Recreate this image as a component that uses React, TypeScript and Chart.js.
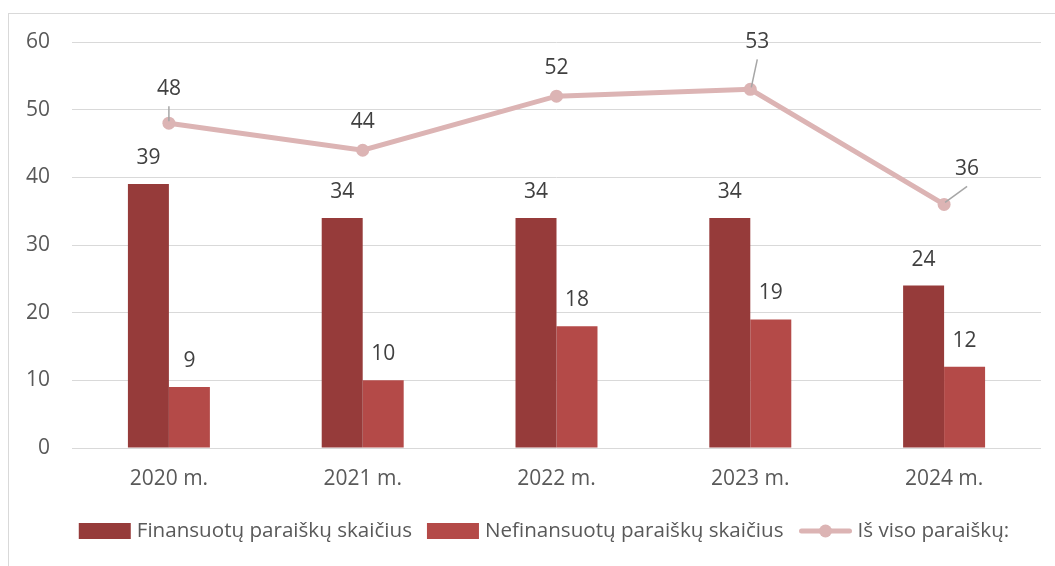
import React, { useEffect, useRef } from "react";
import { Chart, registerables } from "chart.js";

Chart.register(...registerables);

const categories = ["2020 m.", "2021 m.", "2022 m.", "2023 m.", "2024 m."];
const financed = [39, 34, 34, 34, 24];
const notFinanced = [9, 10, 18, 19, 12];
const total = [48, 44, 52, 53, 36];
const seriesNames = ["Finansuotų paraiškų skaičius", "Nefinansuotų paraiškų skaičius", "Iš viso paraiškų:"];
const yTicks = [0, 10, 20, 30, 40, 50, 60];

const DARK = "#963b3a";
const LIGHT = "#b44a48";
const LINE = "#dcb4b4";
const FONT = "'Open Sans', sans-serif";
const FS = 21;
const TEXT = "#404040";

// label placement for line labels (style only)
const lineLabelDx = [0, 0, 0, 7, 23];
const lineLabelDy = [-34, -28, -28, -47, -35];
const lineLeader = [true, false, false, true, true];

const labelsPlugin = {
  id: "valueLabels",
  afterDatasetsDraw(chart: any) {
    const ctx = chart.ctx;
    ctx.save();
    ctx.font = `${FS}px ${FONT}`;
    ctx.fillStyle = TEXT;
    ctx.textAlign = "center";
    ctx.textBaseline = "middle";
    [0, 1].forEach((di) => {
      const meta = chart.getDatasetMeta(di);
      meta.data.forEach((el: any, i: number) => {
        const v = chart.data.datasets[di].data[i];
        ctx.fillText(String(v), el.x, el.y - 26);
      });
    });
    const meta = chart.getDatasetMeta(2);
    meta.data.forEach((el: any, i: number) => {
      const v = chart.data.datasets[2].data[i];
      const lx = el.x + lineLabelDx[i];
      const ly = el.y + lineLabelDy[i];
      if (lineLeader[i]) {
        ctx.strokeStyle = "#a6a6a6";
        ctx.lineWidth = 1.5;
        ctx.beginPath();
        ctx.moveTo(lx, ly + 17);
        ctx.lineTo(el.x + (lineLabelDx[i] > 0 ? 1 : 0), el.y - 2);
        ctx.stroke();
      }
      ctx.fillText(String(v), lx, ly);
    });
    ctx.restore();
  },
  afterDraw(chart: any) {
    const ctx = chart.ctx;
    ctx.save();
    ctx.font = `20.6px ${FONT}`;
    ctx.textBaseline = "middle";
    const symW = [52, 52, 54];
    const gap = [6, 6, 5];
    const spacing = 15;
    const widths = seriesNames.map((n) => ctx.measureText(n).width);
    const totalW = widths.reduce((a, w, i) => a + symW[i] + gap[i] + w, 0) + spacing * 2;
    let x = 544 - totalW / 2;
    const y = 531;
    seriesNames.forEach((n, i) => {
      const bw = symW[i];
      if (i < 2) {
        ctx.fillStyle = i === 0 ? DARK : LIGHT;
        ctx.fillRect(x, y - 8, bw, 16);
      } else {
        ctx.strokeStyle = LINE;
        ctx.lineWidth = 5;
        ctx.lineCap = "round";
        ctx.beginPath();
        ctx.moveTo(x + 3, y);
        ctx.lineTo(x + bw - 3, y);
        ctx.stroke();
        ctx.fillStyle = LINE;
        ctx.beginPath();
        ctx.arc(x + bw / 2, y, 6.5, 0, Math.PI * 2);
        ctx.fill();
      }
      ctx.fillStyle = "#595959";
      ctx.textAlign = "left";
      ctx.fillText(n, x + bw + gap[i], y);
      x += bw + gap[i] + widths[i] + spacing;
    });
    ctx.restore();
  },
};

export default function App() {
  const ref = useRef<HTMLCanvasElement>(null);
  useEffect(() => {
    if (!ref.current) return;
    const chart = new Chart(ref.current, {
      type: "bar",
      data: {
        labels: categories,
        datasets: [
          { label: seriesNames[0], data: financed, backgroundColor: DARK, order: 1, categoryPercentage: 0.423, barPercentage: 1 },
          { label: seriesNames[1], data: notFinanced, backgroundColor: LIGHT, order: 1, categoryPercentage: 0.423, barPercentage: 1 },
          {
            type: "line",
            label: seriesNames[2],
            data: total,
            borderColor: LINE,
            backgroundColor: LINE,
            borderWidth: 5,
            pointRadius: 6.5,
            pointHoverRadius: 6.5,
            pointBackgroundColor: LINE,
            pointBorderWidth: 0,
            order: 0,
          } as any,
        ],
      },
      options: {
        animation: false,
        responsive: false,
        layout: { padding: { top: 42, left: 0, right: 14, bottom: 58 } },
        plugins: { legend: { display: false }, tooltip: { enabled: false } },
        scales: {
          x: {
            grid: { display: false, drawTicks: false },
            border: { display: false },
            ticks: { font: { family: FONT, size: FS }, color: "#595959", padding: 18 },
            afterFit: (s: any) => { s.height = 60; },
          },
          y: {
            min: 0,
            max: 60,
            afterBuildTicks: (s: any) => { s.ticks = yTicks.map((v) => ({ value: v })); },
            grid: { color: "#d9d9d9", lineWidth: 1, drawTicks: false },
            border: { display: false },
            ticks: { font: { family: FONT, size: FS }, color: "#595959", padding: 22 },
            afterFit: (s: any) => { s.width = 72; },
          },
        },
      },
      plugins: [labelsPlugin],
    });
    return () => chart.destroy();
  }, []);
  return (
    <div style={{ position: "absolute", left: 0, top: 0, width: 1055, height: 566, background: "#fff", overflow: "hidden" }}>
      <div style={{ position: "absolute", left: 8, top: 13, width: 1100, height: 600, borderTop: "1px solid #d9d9d9", borderLeft: "1px solid #d9d9d9" }} />
      <canvas ref={ref} width={1055} height={566} style={{ position: "absolute", left: 0, top: 0, display: "block" }} />
    </div>
  );
}
